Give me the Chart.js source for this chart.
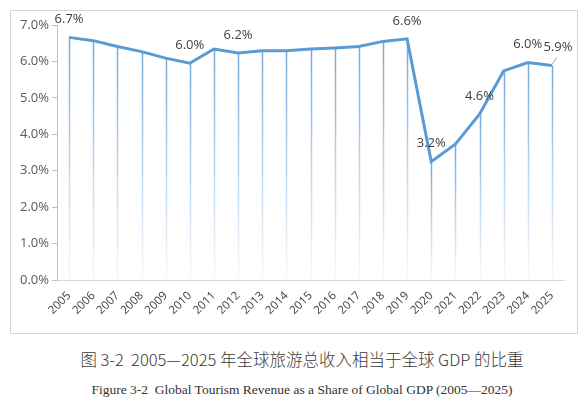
<!DOCTYPE html>
<html>
<head>
<meta charset="utf-8">
<script src="https://cdn.jsdelivr.net/npm/chart.js@4.4.1/dist/chart.umd.min.js"></script>
<style>
  html, body { margin: 0; padding: 0; background: #fff; }
  body { width: 588px; height: 400px; position: relative; overflow: hidden; }
  #box {
    position: absolute; left: 10px; top: 10px; width: 568px; height: 324px;
    box-sizing: border-box; border: 1px solid #d4d4d4;
  }
  .cap-cn {
    position: absolute; left: 0; width: 604px; top: 347px; text-align: center;
    font-family: "Noto Sans CJK SC", sans-serif; font-weight: 300; font-size: 16.5px; color: #3a3a3a;
  }
  .cap-en {
    position: absolute; left: 0; width: 604px; top: 382px; text-align: center;
    font-family: "Liberation Serif", serif; font-size: 13.5px; color: #333;
  }
</style>
</head>
<body>
<div id="box"><canvas id="chart"></canvas></div>
<div class="cap-cn">图 3-2&nbsp; 2005—2025 年全球旅游总收入相当于全球 GDP 的比重</div>
<div class="cap-en">Figure 3-2&nbsp; Global Tourism Revenue as a Share of Global GDP (2005—2025)</div>
<script>
// years on the x axis
const years = ['2005', '2006', '2007', '2008', '2009', '2010', '2011', '2012', '2013', '2014',
  '2015', '2016', '2017', '2018', '2019', '2020', '2021', '2022', '2023', '2024', '2025'];

// tourism revenue as % of global GDP
const shareOfGdp = [6.66, 6.57, 6.41, 6.27, 6.09, 5.95, 6.34, 6.23, 6.29, 6.29,
  6.34, 6.37, 6.41, 6.55, 6.62, 3.25, 3.73, 4.55, 5.74, 5.97, 5.89];

// only some points carry a label in the original
const pointLabels = ['6.7%', null, null, null, null, '6.0%', null, '6.2%', null, null,
  null, null, null, null, '6.6%', '3.2%', null, '4.6%', null, '6.0%', '5.9%'];

const yTicks = [0, 1, 2, 3, 4, 5, 6, 7];

const lineBlue = '#5b9bd5';

// vertical drop lines under each point, fading towards the axis
const dropLines = {
  id: 'dropLines',
  beforeDatasetsDraw(chart) {
    const { ctx, chartArea } = chart;
    const meta = chart.getDatasetMeta(0);
    ctx.save();
    meta.data.forEach(pt => {
      const g = ctx.createLinearGradient(0, pt.y, 0, chartArea.bottom);
      g.addColorStop(0, 'rgba(91,155,213,0.85)');
      g.addColorStop(0.6, 'rgba(91,155,213,0.35)');
      g.addColorStop(1, 'rgba(91,155,213,0.05)');
      ctx.strokeStyle = g;
      ctx.lineWidth = 1.5;
      ctx.beginPath();
      ctx.moveTo(Math.round(pt.x) + 0.5, pt.y);
      ctx.lineTo(Math.round(pt.x) + 0.5, chartArea.bottom);
      ctx.stroke();
    });
    ctx.restore();
  }
};

// data labels above selected points
const valueLabels = {
  id: 'valueLabels',
  afterDatasetsDraw(chart) {
    const { ctx } = chart;
    const meta = chart.getDatasetMeta(0);
    ctx.save();
    ctx.font = '13px "Open Sans", "Noto Sans", sans-serif';
    ctx.fillStyle = '#404040';
    ctx.textAlign = 'center';
    ctx.textBaseline = 'middle';
    meta.data.forEach((pt, i) => {
      const txt = pointLabels[i];
      if (!txt) return;
      let dx = 0;
      if (i === meta.data.length - 1) {
        dx = 6;
        ctx.strokeStyle = '#a6a6a6';
        ctx.lineWidth = 1;
        ctx.beginPath();
        ctx.moveTo(pt.x, pt.y - 1);
        ctx.lineTo(pt.x + 5, pt.y - 8);
        ctx.stroke();
      }
      ctx.fillText(txt, pt.x + dx, pt.y - 18);
    });
    ctx.restore();
  }
};

new Chart(document.getElementById('chart'), {
  type: 'line',
  data: {
    labels: years,
    datasets: [{
      data: shareOfGdp,
      borderColor: lineBlue,
      borderWidth: 3,
      pointRadius: 0,
      tension: 0,
      fill: false,
    }],
  },
  options: {
    responsive: true,
    maintainAspectRatio: false,
    animation: false,
    layout: { padding: { top: 14, right: 13, left: 0, bottom: 0 } },
    plugins: {
      legend: { display: false },
      tooltip: { enabled: false },
    },
    scales: {
      x: {
        offset: true,
        grid: { display: true, drawOnChartArea: false, drawTicks: false },
        border: { color: '#d9d9d9', width: 1 },
        ticks: {
          color: '#404040',
          font: { size: 11.5, family: '"Open Sans", "Noto Sans", sans-serif' },
          autoSkip: false,
          minRotation: 45,
          maxRotation: 45,
          padding: 9,
        },
        afterFit(scale) { scale.height = 53; },
      },
      y: {
        min: 0,
        max: 7,
        afterBuildTicks(scale) { scale.ticks = yTicks.map(v => ({ value: v })); },
        grid: { drawOnChartArea: false, drawTicks: true, tickLength: 5, color: '#bfbfbf' },
        border: { color: '#bfbfbf', width: 1 },
        ticks: {
          color: '#595959',
          font: { size: 13, family: '"Open Sans", "Noto Sans", sans-serif' },
          padding: 3,
          callback: v => v.toFixed(1) + '%',
        },
        afterFit(scale) { scale.width = 46; },
      },
    },
  },
  plugins: [dropLines, valueLabels],
});
</script>
</body>
</html>
